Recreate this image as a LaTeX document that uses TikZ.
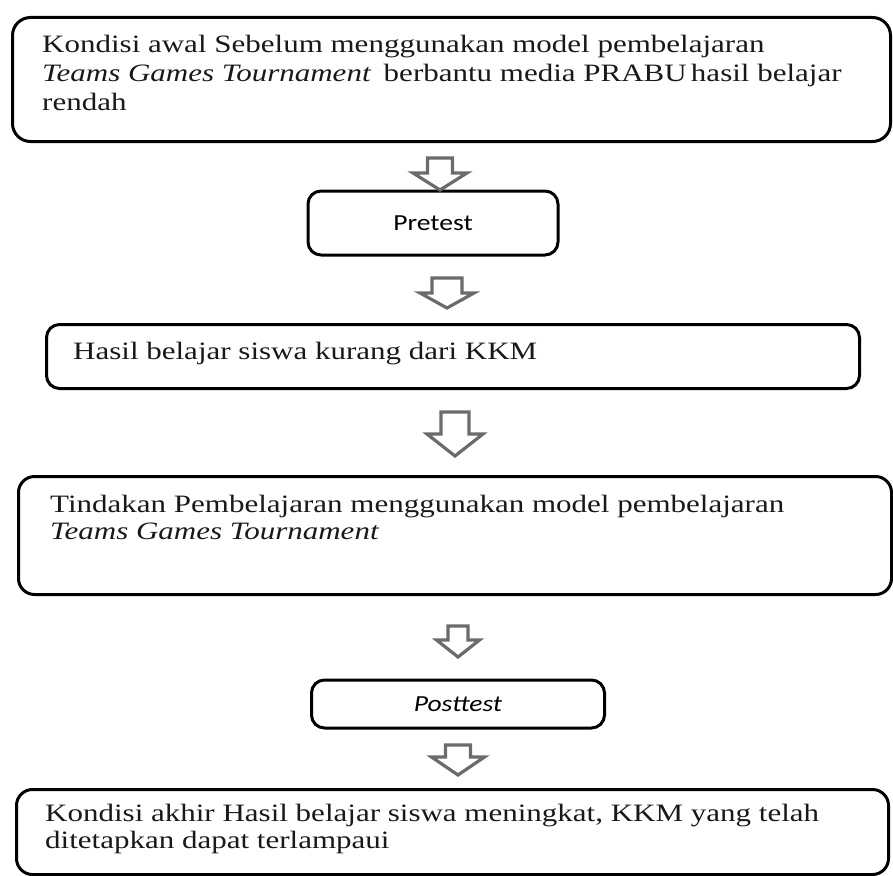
\documentclass[tikz,border=0pt]{standalone}
\usepackage{fontspec}
\setmainfont{Liberation Serif}[FakeStretch=1.24]
\newfontfamily\labelfont{Carlito}[FakeStretch=1.2]
\tikzset{box/.style={draw=black, line width=3pt, rounded corners=13pt, inner sep=0pt, anchor=north west},
txt/.style={inner sep=0pt, anchor=north west, align=left, text=black!90, font=\fontsize{25}{29}\selectfont},
hollow/.style={draw=black!58, line width=3.2pt, fill=white, line join=miter}}

\begin{document}
\begin{tikzpicture}[x=1pt,y=-1pt]

\useasboundingbox (0,0) rectangle (893,875);
\clip (0,0) rectangle (893,875);

\node[box, rounded corners=18pt, minimum width=878pt, minimum height=124pt] (b1) at (11,16) {};
\node[txt] (t1) at (42,35) {Kondisi awal Sebelum menggunakan model pembelajaran\\
\textit{Teams Games Tournament}\enspace berbantu media PRABU\,hasil belajar\\
rendah};

\node[box, anchor=center, minimum width=250pt, minimum height=64pt,
  font=\labelfont\fontsize{23}{27}\selectfont] (pre) at (433,223) {Pretest};

\node[box, minimum width=813pt, minimum height=64pt] (b3) at (45,323) {};
\node[txt] (t3) at (73,342) {Hasil belajar siswa kurang dari KKM};

\node[box, rounded corners=16pt, minimum width=873pt, minimum height=118pt] (b4) at (17,475) {};
\node[txt, font=\fontsize{25}{27}\selectfont] (t4) at (50,495) {Tindakan Pembelajaran menggunakan model pembelajaran\\
\textit{Teams Games Tournament}};

\node[box, anchor=center, minimum width=293pt, minimum height=48pt,
  font=\labelfont\itshape\fontsize{23}{27}\selectfont] (post) at (458,704) {Posttest};

\node[box, rounded corners=16pt, minimum width=872pt, minimum height=85pt] (b5) at (15,788) {};
\node[txt, font=\fontsize{25}{27}\selectfont] (t5) at (45,804) {Kondisi akhir Hasil belajar siswa meningkat, KKM yang telah\\
ditetapkan dapat terlampaui};

% hollow arrows: name/length/shaft/head/head start
\coordinate (a1) at (440,158);
\coordinate (a2) at (447,278);
\coordinate (a3) at (455,412);
\coordinate (a4) at (458,626);
\coordinate (a5) at (458,745);

\foreach \n/\len/\sh/\hh/\hs in {a1/32/12.5/27/15, a2/30/15/27/15, a3/44/14/28/22, a4/31/10/21.5/14, a5/30/12.5/26.5/12}
    \draw[hollow] ([shift={(-\sh,0)}]\n) -- ([shift={(\sh,0)}]\n) -- ([shift={(\sh,\hs)}]\n)
      -- ([shift={(\hh,\hs)}]\n) -- ([shift={(0,\len)}]\n) -- ([shift={(-\hh,\hs)}]\n)
      -- ([shift={(-\sh,\hs)}]\n) -- cycle;

\end{tikzpicture}
\end{document}
